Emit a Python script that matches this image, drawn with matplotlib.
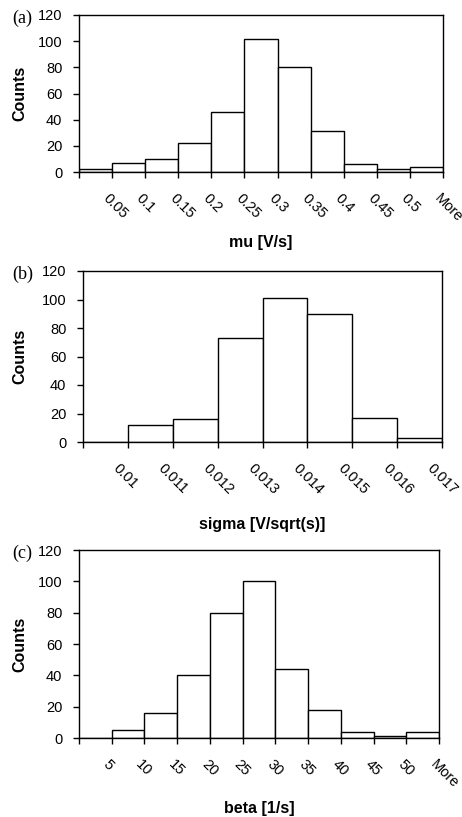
import numpy as np
import matplotlib
matplotlib.use("Agg")
import matplotlib.pyplot as plt
import matplotlib.transforms as mtransforms

# Histogram data (counts per bin, bins labelled by upper edge)
mu_labels = ['0.05', '0.1', '0.15', '0.2', '0.25', '0.3', '0.35', '0.4', '0.45', '0.5', 'More']
mu_counts = [2, 7, 10, 22, 46, 102, 80, 31, 6, 2, 4]

sigma_labels = ['0.01', '0.011', '0.012', '0.013', '0.014', '0.015', '0.016', '0.017']
sigma_counts = [0, 12, 16, 73, 101, 90, 17, 3]

beta_labels = ['5', '10', '15', '20', '25', '30', '35', '40', '45', '50', 'More']
beta_counts = [0, 5, 16, 40, 80, 100, 44, 18, 4, 1, 4]

panels = [
    ('(a)', 'mu [V/s]', mu_labels, mu_counts),
    ('(b)', 'sigma [V/sqrt(s)]', sigma_labels, sigma_counts),
    ('(c)', 'beta [1/s]', beta_labels, beta_counts),
]

W, H = 462, 817
DPI = 100
fig = plt.figure(figsize=(W / DPI, H / DPI), dpi=DPI)

# axes boxes in pixels: left, right, top, bottom
boxes = [(79, 443, 15, 172), (83, 442, 271, 442), (79, 439, 550, 738)]
xlabel_off = [71, 82, 71]   # px below the axis to x-label centre

sans = 'Liberation Sans'
serif = 'Liberation Serif'

for (tag, xlab, labels, counts), (l, r, t, b), xo in zip(panels, boxes, xlabel_off):
    ax = fig.add_axes([l / W, 1 - b / H, (r - l) / W, (b - t) / H])
    n = len(counts)
    x = np.arange(n) + 0.5
    ax.bar(x, counts, width=1.0, facecolor='white', edgecolor='black', linewidth=1.0, zorder=2)
    ax.set_xlim(0, n)
    ax.set_ylim(0, 120)
    ax.set_yticks(np.arange(0, 121, 20))
    ax.set_xticks(np.arange(n + 1))
    ax.set_xticklabels([])
    ax.set_xticks(x, minor=True)
    ax.set_xticklabels(labels, minor=True, rotation=-45, ha='left', va='top',
                       rotation_mode='anchor', fontfamily=sans, fontsize=10.5)
    ax.tick_params(axis='x', which='major', direction='out', length=4, width=1.0)
    ax.tick_params(axis='x', which='minor', length=0, pad=14)
    ax.tick_params(axis='y', direction='out', length=4, width=1.0, pad=8)
    for lab in ax.get_yticklabels():
        lab.set_fontfamily(sans)
        lab.set_fontsize(10.5)
    shift = mtransforms.ScaledTranslation(15 / DPI, 0, fig.dpi_scale_trans)
    for lab in ax.get_xticklabels(minor=True):
        lab.set_transform(lab.get_transform() + shift)
    for sp in ax.spines.values():
        sp.set_linewidth(1.0)

    ax.set_xlabel(xlab, fontfamily=sans, fontweight='bold', fontsize=11.5, va='center')
    ax.xaxis.set_label_coords(0.5, -xo / (b - t))
    ax.set_ylabel('Counts', fontfamily=sans, fontweight='bold', fontsize=11.5, va='center')
    ax.yaxis.set_label_coords((20 - l) / (r - l), 0.5)

    fig.text(12 / W, 1 - (t + 3) / H, tag, fontfamily=serif, fontsize=13,
             ha='left', va='center')

fig.savefig('out.png', dpi=DPI)
